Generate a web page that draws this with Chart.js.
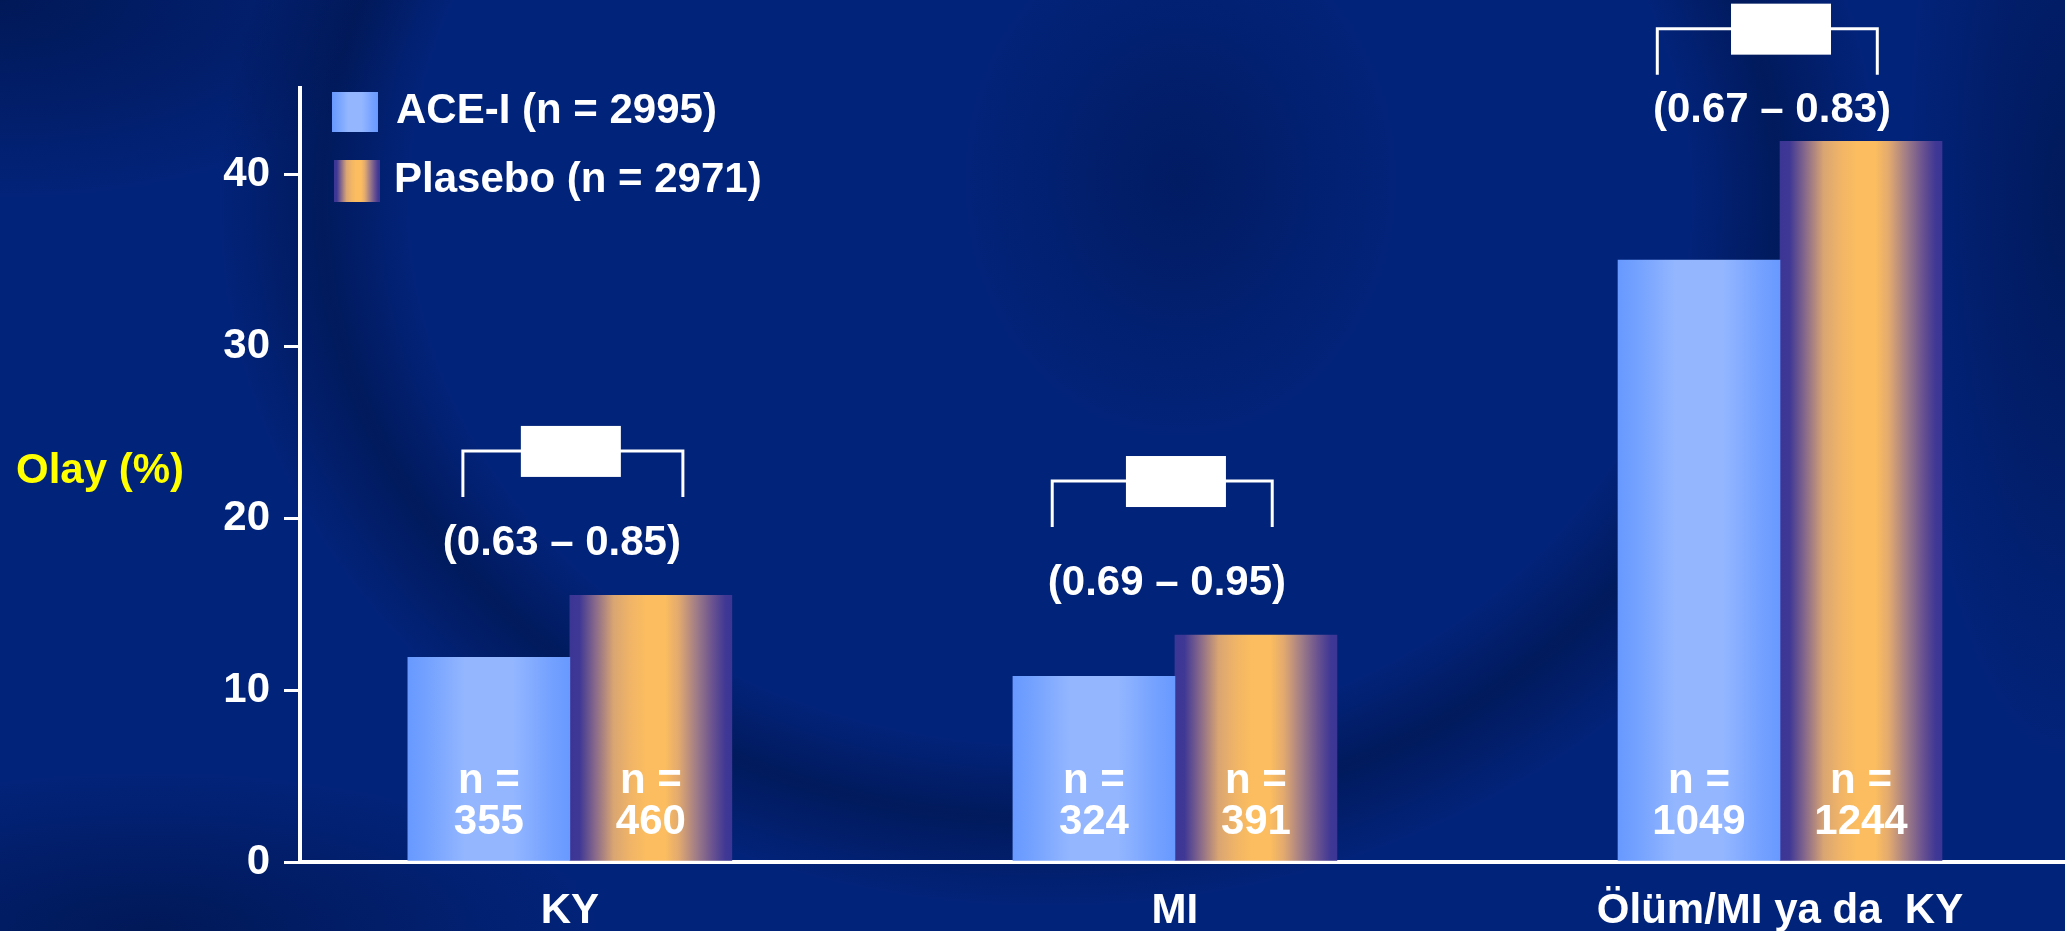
<!DOCTYPE html>
<html>
<head>
<meta charset="utf-8">
<script src="https://cdn.jsdelivr.net/npm/chart.js@4/dist/chart.umd.min.js"></script>
<style>
  html, body { margin: 0; padding: 0; overflow: hidden; }
  body {
    width: 2065px;
    height: 931px;
    background-color: #02237a;
    background-image:
      radial-gradient(ellipse 800px 680px at 1050px 200px, rgba(0,12,45,0) 80%, rgba(0,12,45,0.38) 91%, rgba(0,12,45,0) 104%),
      radial-gradient(ellipse 420px 200px at 0px 0px, rgba(0,12,45,0.45), rgba(0,12,45,0)),
      radial-gradient(ellipse 450px 160px at 150px 931px, rgba(0,12,45,0.45), rgba(0,12,45,0)),
      radial-gradient(ellipse 160px 560px at 2065px 200px, rgba(0,12,45,0.4), rgba(0,12,45,0)),
      radial-gradient(ellipse 220px 260px at 1180px 180px, rgba(0,12,45,0.3), rgba(0,12,45,0));
  }
  #wrap { position: relative; width: 2065px; height: 931px; }
</style>
</head>
<body>
<div id="wrap"><canvas id="chart-area"></canvas></div>
<script>
// event rates (%) per endpoint
var categories = ['KY', 'MI', 'Ölüm/MI ya da  KY'];
var aceValues = [11.9, 10.8, 35.0];
var plaValues = [15.5, 13.2, 41.9];
var aceCounts = [355, 324, 1049];
var plaCounts = [460, 391, 1244];
var ciLabels = ['(0.63 – 0.85)', '(0.69 – 0.95)', '(0.67 – 0.83)'];
var yTicks = [0, 10, 20, 30, 40];
var seriesNames = ['ACE-I (n = 2995)', 'Plasebo (n = 2971)'];

// where the CI brackets and their text sit (y units, x shift in category units)
var ciBracketAt = [23.9, 22.15, 48.45];
var ciTextAt = [17.85, 15.5, 43.0];
var ciShift = [0.005, -0.021, -0.021];

var FONT = 'bold 42px "Liberation Sans", Arial, sans-serif';
var BAR_W = 162;

var aceStops = [[0, '#6899ff'], [0.1, '#71a0ff'], [0.35, '#93b6ff'], [0.65, '#93b6ff'], [0.9, '#72a0ff'], [1, '#6899ff']];
var plaStops = [[0, '#3b3594'], [0.06, '#403895'], [0.16, '#8a6b8a'], [0.27, '#d9a572'], [0.37, '#f0b467'],
                [0.47, '#fbbd5f'], [0.59, '#fbbd5f'], [0.67, '#e3aa6f'], [0.78, '#a07d87'], [0.88, '#6a5390'],
                [0.96, '#403895'], [1, '#3b3594']];

function makeGradient(c, left, width, stops) {
    var g = c.createLinearGradient(left, 0, left + width, 0);
    stops.forEach(function(s) { g.addColorStop(s[0], s[1]); });
    return g;
}

function barFill(stops) {
    return function(ctx) {
        var chart = ctx.chart;
        var xs = chart.scales.x;
        if (!xs || ctx.dataIndex === undefined || !chart.chartArea) return stops[0][1];
        var cx = xs.getPixelForValue(ctx.dataIndex);
        var left = ctx.datasetIndex === 0 ? cx - BAR_W : cx;
        return makeGradient(chart.ctx, left, BAR_W, stops);
    };
}

var overlay = {
    id: 'overlay',
    afterDatasetsDraw: function(chart) {
        var c = chart.ctx, xs = chart.scales.x, ys = chart.scales.y;
        var base = ys.getPixelForValue(0);
        c.save();
        c.font = FONT;
        c.fillStyle = '#fff';
        c.strokeStyle = '#fff';
        c.lineWidth = 3;
        c.textAlign = 'center';
        c.textBaseline = 'alphabetic';

        categories.forEach(function(cat, i) {
            var cx = xs.getPixelForValue(i);

            // counts inside the bars
            c.fillText('n =', cx - BAR_W / 2, base - 69);
            c.fillText(String(aceCounts[i]), cx - BAR_W / 2, base - 28);
            c.fillText('n =', cx + BAR_W / 2, base - 69);
            c.fillText(String(plaCounts[i]), cx + BAR_W / 2, base - 28);

            // bracket + box + interval
            var hy = ys.getPixelForValue(ciBracketAt[i]);
            var bx = xs.getPixelForValue(i + ciShift[i]);
            c.beginPath();
            c.moveTo(bx - 110, hy + 46);
            c.lineTo(bx - 110, hy);
            c.lineTo(bx + 110, hy);
            c.lineTo(bx + 110, hy + 46);
            c.stroke();
            c.fillRect(cx - 49, hy - 25, 100, 51);
            c.fillText(ciLabels[i], cx - 8, ys.getPixelForValue(ciTextAt[i]));
        });

        // legend
        c.textAlign = 'left';
        c.fillStyle = makeGradient(c, 332, 46, aceStops);
        c.fillRect(332, 92, 46, 40);
        c.fillStyle = makeGradient(c, 334, 46, plaStops);
        c.fillRect(334, 160, 46, 42);
        c.fillStyle = '#fff';
        c.fillText(seriesNames[0], 396, 123);
        c.fillText(seriesNames[1], 394, 192);

        // y title, drawn flat
        c.fillStyle = '#ffff00';
        c.fillText('Olay (%)', 16, 483);
        c.restore();
    }
};

Chart.defaults.font.family = '"Liberation Sans", Arial, sans-serif';
Chart.defaults.font.weight = 'bold';
Chart.defaults.font.size = 42;
Chart.defaults.color = '#fff';

var config = {
    type: 'bar',
    data: {
        datasets: [{
            label: seriesNames[0],
            data: aceValues.map(function(v, i) { return { x: i, y: v }; }),
            backgroundColor: barFill(aceStops),
            borderWidth: 0
        }, {
            label: seriesNames[1],
            data: plaValues.map(function(v, i) { return { x: i, y: v }; }),
            backgroundColor: barFill(plaStops),
            borderWidth: 0
        }]
    },
    options: {
        responsive: false,
        animation: false,
        layout: { padding: { top: 88, left: 0, right: 0, bottom: 0 } },
        plugins: {
            legend: { display: false },
            tooltip: { enabled: false }
        },
        datasets: {
            bar: { barThickness: BAR_W }
        },
        scales: {
            x: {
                type: 'linear',
                offset: false,
                bounds: 'data',
                min: -0.446,
                max: 2.471,
                afterBuildTicks: function(axis) {
                    axis.ticks = categories.map(function(c, i) { return { value: i }; });
                },
                afterFit: function(scale) { scale.height = 69; },
                ticks: {
                    padding: 24,
                    maxRotation: 0,
                    autoSkip: false,
                    callback: function(v) { return categories[v]; }
                },
                grid: { display: false, drawTicks: false, offset: false },
                border: { display: true, color: '#fff', width: 4 }
            },
            y: {
                min: 0,
                max: 45,
                afterBuildTicks: function(axis) {
                    axis.ticks = yTicks.map(function(v) { return { value: v }; });
                },
                afterFit: function(scale) { scale.width = 300; },
                ticks: { padding: 14 },
                grid: {
                    drawOnChartArea: false,
                    drawTicks: true,
                    tickLength: 16,
                    color: '#fff',
                    lineWidth: 3
                },
                border: { display: true, color: '#fff', width: 4 }
            }
        }
    },
    plugins: [overlay]
};

window.onload = function() {
    var canvas = document.getElementById('chart-area');
    canvas.width = 2065;
    canvas.height = 931;
    var ctx = canvas.getContext('2d');
    window.myBar = new Chart(ctx, config);
};
</script>
</body>
</html>
